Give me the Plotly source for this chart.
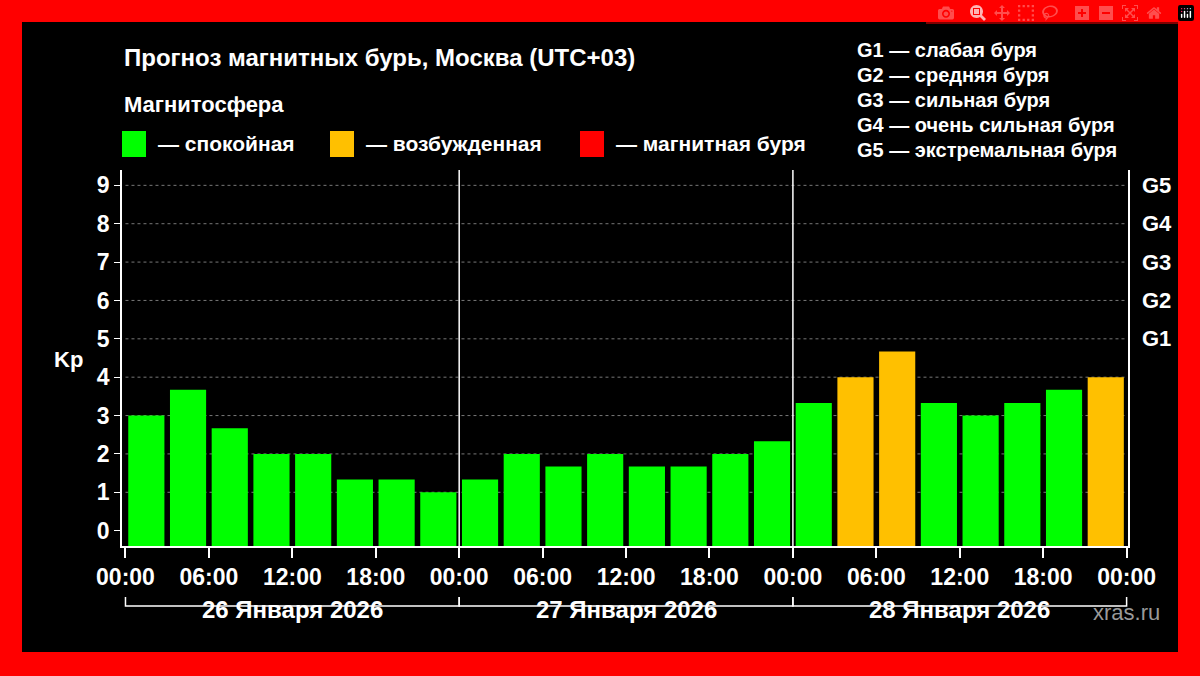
import plotly.graph_objects as go

HOURS = [1.5 + 3 * i for i in range(24)]
KP = [3, 3.67, 2.67, 2, 2, 1.33, 1.33, 1,
      1.33, 2, 1.67, 2, 1.67, 1.67, 2, 2.33,
      3.33, 4, 4.67, 3.33, 3, 3.33, 3.67, 4]
DAYS = ["26 Января 2026", "27 Января 2026", "28 Января 2026"]
TICK_HOURS = list(range(0, 73, 6))
TICK_TEXT = ["00:00", "06:00", "12:00", "18:00"] * 3 + ["00:00"]
G_LEVELS = [5, 6, 7, 8, 9]
G_TEXT = ["G1", "G2", "G3", "G4", "G5"]
SCALE = ["G1 — слабая буря", "G2 — средняя буря", "G3 — сильная буря",
         "G4 — очень сильная буря", "G5 — экстремальная буря"]

GREEN, ORANGE, RED = "#00ff00", "#ffc000", "#ff0000"
YMIN, YMAX = -0.4, 9.4
FONT = "Liberation Sans, Arial, sans-serif"


def kp_color(v):
    if v >= 5:
        return RED
    if v >= 4:
        return ORANGE
    return GREEN


fig = go.Figure(go.Bar(
    x=HOURS, y=[v - YMIN for v in KP], base=YMIN, width=2.6,
    marker=dict(color=[kp_color(v) for v in KP], line_width=0),
))

shapes = [dict(type="rect", xref="paper", yref="paper", x0=22 / 1200, x1=1178 / 1200,
               y0=24 / 676, y1=654 / 676, fillcolor="black", line_width=0, layer="below")]
for d in (24, 48):
    shapes.append(dict(type="line", x0=d, x1=d, y0=YMIN, y1=YMAX, line=dict(color="white", width=1.5)))
for k in range(1, 10):
    shapes.append(dict(type="line", x0=0, x1=72, y0=k, y1=k, layer="below",
                       line=dict(color="#777777", width=1, dash="dot")))
# day brackets
for i in range(3):
    a, b = 24 * i, 24 * (i + 1)
    shapes.append(dict(type="path", xref="x", yref="paper",
                       path=f"M {a},{(676-597)/676} L {a},{(676-606)/676} L {b},{(676-606)/676} L {b},{(676-597)/676}",
                       line=dict(color="white", width=1.5)))
# legend squares
for x0, c in ((122, GREEN), (330, ORANGE), (580, RED)):
    shapes.append(dict(type="rect", xref="paper", yref="paper", x0=x0 / 1200, x1=(x0 + 24) / 1200,
                       y0=(676 - 157) / 676, y1=(676 - 131) / 676, fillcolor=c, line_width=0))

ann = [
    dict(text="Прогноз магнитных бурь, Москва (UTC+03)", x=122, y=58, size=24),
    dict(text="Магнитосфера", x=122, y=105, size=22),
    dict(text="— спокойная", x=156, y=144, size=21),
    dict(text="— возбужденная", x=364, y=144, size=21),
    dict(text="— магнитная буря", x=614, y=144, size=21),
    dict(text="Kp", x=52, y=359, size=22),
]
for i, s in enumerate(SCALE):
    ann.append(dict(text=s, x=855, y=50 + 25 * i, size=20))
annotations = [dict(text=f"<b>{a['text']}</b>", xref="paper", yref="paper", x=a["x"] / 1200,
                    y=(676 - a["y"]) / 676, xanchor="left", yanchor="middle", showarrow=False,
                    font=dict(color="white", size=a["size"], family=FONT)) for a in ann]
for lvl, t in zip(G_LEVELS, G_TEXT):
    annotations.append(dict(text=f"<b>{t}</b>", xref="paper", yref="y", x=1140 / 1200, y=lvl,
                            xanchor="left", showarrow=False, font=dict(color="white", size=22, family=FONT)))
for i, d in enumerate(DAYS):
    annotations.append(dict(text=f"<b>{d}</b>", xref="x", yref="paper", x=24 * i + 12, y=(676 - 625) / 676,
                            showarrow=False, font=dict(color="white", size=24, family=FONT)))
annotations.append(dict(text="xras.ru", xref="paper", yref="paper", x=1162 / 1200, y=(676 - 627) / 676,
                        xanchor="right", showarrow=False, font=dict(color="#9a9a9a", size=22, family=FONT)))

fig.update_layout(
    width=1200, height=676, paper_bgcolor="#ff0000", plot_bgcolor="black",
    margin=dict(l=0, r=0, t=0, b=0, autoexpand=False), showlegend=False,
    shapes=shapes, annotations=annotations,
    font=dict(family=FONT, color="white"),
    xaxis=dict(domain=[122 / 1200, 1128 / 1200], range=[-0.25, 72.1], tickvals=TICK_HOURS,
               ticktext=[f"<b>{t}</b>" for t in TICK_TEXT], tickfont=dict(size=23, color="white"),
               showgrid=False, zeroline=False, showline=True, linecolor="white", linewidth=1.5,
               ticks="outside", ticklen=10, tickcolor="white", tickwidth=1.5, automargin=False),
    yaxis=dict(domain=[(676 - 546) / 676, (676 - 170) / 676], range=[YMIN, YMAX],
               tickvals=list(range(10)), ticktext=[f"<b>{k}</b>" for k in range(10)],
               tickfont=dict(size=23, color="white"), showgrid=False, zeroline=False,
               showline=True, linecolor="white", linewidth=1.5, mirror=True,
               ticks="outside", ticklen=6, tickcolor="white", automargin=False),
)

fig.write_html("out.html", post_script="document.body.style.margin='0';")
